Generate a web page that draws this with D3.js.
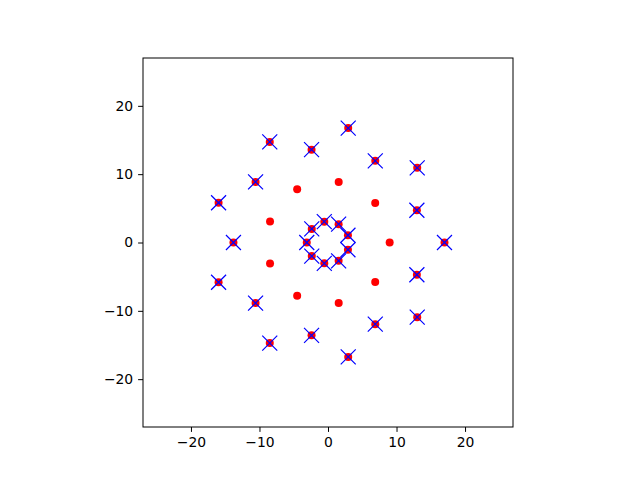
<!DOCTYPE html>
<html>
<head>
<meta charset="utf-8">
<script src="https://cdn.jsdelivr.net/npm/d3@7"></script>
<style>
    body { margin: 0; background: #fff; }
    text { font-family: "DejaVu Sans", sans-serif; font-size: 13.9px; fill: #000; }
</style>
</head>
<body>
<svg id="chart" width="640" height="480"></svg>
<script>
// inner ring points (red dot + blue cross)
var inner_x = [2.91, 1.55, -0.54, -2.37, -3.1, -2.37, -0.54, 1.55, 2.91];
var inner_y = [1.06, 2.68, 3.05, 1.99, 0, -1.99, -3.05, -2.68, -1.06];

// middle ring points (red dot only)
var middle_x = [9, 6.89, 1.56, -4.5, -8.46, -8.46, -4.5, 1.56, 6.89];
var middle_y = [0, 5.79, 8.86, 7.79, 3.08, -3.08, -7.79, -8.86, -5.79];

// outer star points (red dot + blue cross)
var outer_x = [17, 12.97, 13.02, 6.9, 2.95, -2.4, -8.5, -10.57, -15.97, -13.8,
    -15.97, -10.57, -8.5, -2.4, 2.95, 6.9, 13.02, 12.97];
var outer_y = [0, 4.72, 10.93, 11.95, 16.74, 13.59, 14.72, 8.87, 5.81, 0,
    -5.81, -8.87, -14.72, -13.59, -16.74, -11.95, -10.93, -4.72];

var tick_values = [-20, -10, 0, 10, 20];

var margin = {top: 58, left: 143},
    width = 370,
    height = 369,
    dot_radius = 4,
    cross_half = 7.5;

var svg = d3.select("#chart"),
    g = svg.append("g").attr("transform", "translate(" + margin.left + "," + margin.top + ")");

var x = d3.scaleLinear().domain([-27, 27]).range([0, width]);
var y = d3.scaleLinear().domain([-27, 27]).range([height, 0]);

function zip(xs, ys) {
    return xs.map(function (v, i) { return {x: v, y: ys[i]}; });
}

var all_points = zip(inner_x, inner_y).concat(zip(middle_x, middle_y), zip(outer_x, outer_y));
var cross_points = zip(inner_x, inner_y).concat(zip(outer_x, outer_y));

// red dots
g.selectAll("circle.dot").data(all_points).enter().append("circle")
    .attr("class", "dot")
    .attr("cx", function (d) { return x(d.x); })
    .attr("cy", function (d) { return y(d.y); })
    .attr("r", dot_radius)
    .attr("fill", "#ff0000");

// blue crosses
g.selectAll("path.cross").data(cross_points).enter().append("path")
    .attr("class", "cross")
    .attr("d", function (d) {
        var cx = x(d.x), cy = y(d.y), s = cross_half;
        return "M" + (cx - s) + "," + (cy - s) + "L" + (cx + s) + "," + (cy + s) +
            "M" + (cx - s) + "," + (cy + s) + "L" + (cx + s) + "," + (cy - s);
    })
    .attr("stroke", "#0000ff")
    .attr("stroke-width", 1.2)
    .attr("fill", "none");

var fmt = function (d) { return d < 0 ? "\u2212" + Math.abs(d) : "" + d; };

var xAxis = g.append("g").attr("transform", "translate(0," + height + ")")
    .call(d3.axisBottom(x).tickValues(tick_values).tickFormat(fmt).tickSize(4.9).tickPadding(4.9));
var yAxis = g.append("g")
    .call(d3.axisLeft(y).tickValues(tick_values).tickFormat(fmt).tickSize(4.9).tickPadding(4.9));

[xAxis, yAxis].forEach(function (a) {
    a.select(".domain").remove();
    a.selectAll("line").attr("stroke", "#000").attr("stroke-width", 1);
    a.selectAll("text").style("font-family", "DejaVu Sans, sans-serif").style("font-size", "13.9px");
});

// frame
g.append("rect")
    .attr("x", 0).attr("y", 0)
    .attr("width", width).attr("height", height)
    .attr("fill", "none")
    .attr("stroke", "#000")
    .attr("stroke-width", 1);
</script>
</body>
</html>
